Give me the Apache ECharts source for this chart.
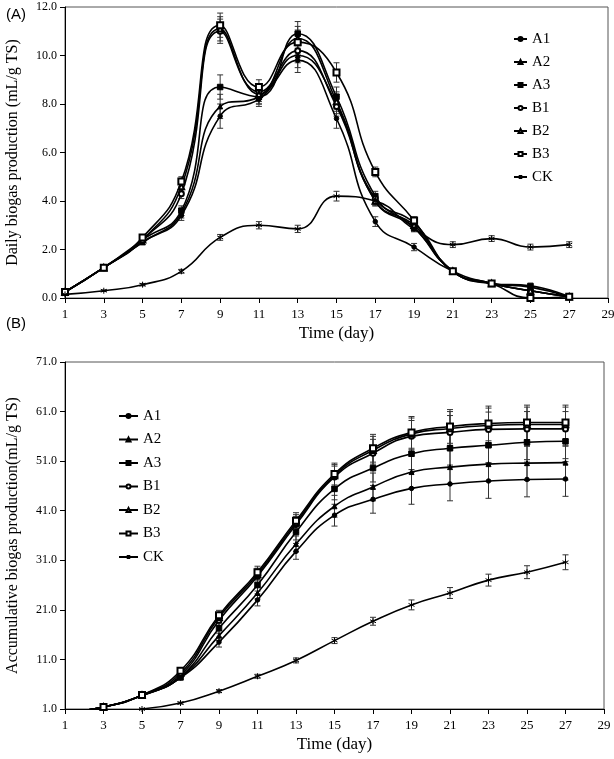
<!DOCTYPE html>
<html><head><meta charset="utf-8">
<script src="https://cdn.jsdelivr.net/npm/echarts@6/dist/echarts.min.js"></script>
<style>html,body{margin:0;padding:0;background:#fff}#c{width:614px;height:759px}</style>
</head><body><div id="c"></div>
<script>
const days = [1,3,5,7,9,11,13,15,17,19,21,23,25,27];
const xTicks = [1,3,5,7,9,11,13,15,17,19,21,23,25,27,29];
const yTicksA = [0,2,4,6,8,10,12];
const yTicksB = [1,11,21,31,41,51,61,71];
const names = ['A1','A2','A3','B1','B2','B3','CK'];

// (A) Daily biogas production
const dailyA1 = [0.25,1.25,2.3,3.4,7.5,8.2,9.8,7.4,3.15,2.1,1.1,0.6,0.3,0.05];
const dailyA2 = [0.25,1.25,2.3,3.5,7.9,8.3,10.0,8.0,4.0,2.9,1.1,0.6,0.45,0.05];
const dailyA3 = [0.25,1.25,2.4,3.6,8.7,8.3,10.9,8.3,4.2,2.9,1.1,0.6,0.5,0.05];
const dailyB1 = [0.25,1.25,2.4,4.3,11.0,8.5,10.2,7.9,4.1,3.1,1.1,0.6,0.3,0.05];
const dailyB2 = [0.25,1.25,2.4,4.6,11.1,8.4,10.7,8.1,4.0,3.0,1.1,0.6,0.3,0.05];
const dailyB3 = [0.25,1.25,2.5,4.8,11.25,8.7,10.55,9.3,5.2,3.2,1.1,0.6,0.0,0.05];
const dailyCK = [0.15,0.3,0.55,1.1,2.5,3.0,2.85,4.2,4.0,2.85,2.2,2.45,2.1,2.2];
const dailyErr = [0.05,0.05,0.1,0.2,0.5,0.3,0.5,0.4,0.2,0.15,0.05,0.05,0.05,0.05];
const dailyErrCK = [0.03,0.03,0.05,0.08,0.12,0.15,0.15,0.2,0.15,0.12,0.12,0.12,0.12,0.12];

// (B) Accumulative biogas production
const accA1 = [0.26,1.4,3.7,7.3,14.5,23.0,32.8,40.1,43.3,45.5,46.4,47.0,47.3,47.4];
const accA2 = [0.26,1.4,3.7,7.4,15.8,24.4,34.3,41.9,45.8,48.8,49.8,50.4,50.6,50.7];
const accA3 = [0.26,1.4,3.7,7.5,17.3,26.0,36.7,45.4,49.6,52.5,53.6,54.2,54.8,55.0];
const accB1 = [0.26,1.4,3.8,7.8,18.9,27.8,38.2,47.8,52.6,56.0,56.8,57.4,57.5,57.5];
const accB2 = [0.26,1.4,3.8,8.2,19.5,28.2,38.6,48.1,53.2,56.5,57.6,58.2,58.4,58.4];
const accB3 = [0.26,1.4,3.8,8.7,19.9,28.6,39.0,48.4,53.6,56.8,58.0,58.6,58.8,58.8];
const accCK = [null,null,1.0,2.2,4.6,7.6,10.8,14.8,18.7,22.0,24.4,27.0,28.6,30.6];
const accErr = [0.1,0.2,0.3,0.5,1.0,1.2,1.6,2.2,2.8,3.2,3.4,3.5,3.5,3.5];
const accErrCK = [0,0,0.1,0.2,0.3,0.4,0.5,0.6,0.8,1.0,1.1,1.2,1.3,1.5];

const dailySets = [dailyA1,dailyA2,dailyA3,dailyB1,dailyB2,dailyB3,dailyCK];
const accSets = [accA1,accA2,accA3,accB1,accB2,accB3,accCK];

const serif = 'Liberation Serif';
const asterisk = 'path://M5,0L5,10M0.7,2.5L9.3,7.5M9.3,2.5L0.7,7.5';
const symbols = [
  {symbol:'circle', symbolSize:4.5},
  {symbol:'triangle', symbolSize:5},
  {symbol:'rect', symbolSize:5.5},
  {symbol:'emptyCircle', symbolSize:5},
  {symbol:'emptyTriangle', symbolSize:5.5},
  {symbol:'emptyRect', symbolSize:6},
  {symbol:asterisk, symbolSize:6}
];

function pairs(vals){ return days.map((d,i)=>[d, vals[i]]); }

function errSeries(vals, errs, gi, name){
  return {
    type:'custom', name:name, xAxisIndex:gi, yAxisIndex:gi, z:1, clip:true,
    data: days.map((d,i)=> vals[i]==null ? null : [d, vals[i], errs[i]]).filter(v=>v),
    encode:{x:0,y:1},
    renderItem:function(params, api){
      const x = api.value(0), y = api.value(1), e = api.value(2);
      if(!(e>0)) return null;
      const t = api.coord([x, y+e]), b = api.coord([x, y-e]);
      const w = 3;
      const st = {stroke:'#333', lineWidth:1};
      return {type:'group', children:[
        {type:'line', shape:{x1:t[0],y1:t[1],x2:b[0],y2:b[1]}, style:st},
        {type:'line', shape:{x1:t[0]-w,y1:t[1],x2:t[0]+w,y2:t[1]}, style:st},
        {type:'line', shape:{x1:b[0]-w,y1:b[1],x2:b[0]+w,y2:b[1]}, style:st}
      ]};
    },
    silent:true, tooltip:{show:false}
  };
}

const series = [];
[dailySets, accSets].forEach((sets, gi)=>{
  sets.forEach((vals, k)=>{
    const isCK = k===6;
    const errs = gi===0 ? (isCK?dailyErrCK:dailyErr) : (isCK?accErrCK:accErr);
    series.push(errSeries(vals, errs, gi, names[k]+'_err'+gi));
    series.push({
      type:'line', name:names[k], xAxisIndex:gi, yAxisIndex:gi, z:3,
      data:pairs(vals), smooth:0.5, connectNulls:false, clip:true,
      symbol:symbols[k].symbol, symbolSize:symbols[k].symbolSize,
      showAllSymbol:true,
      lineStyle:{color:'#000', width:1.6},
      itemStyle:{color:'#000', borderColor:'#000', borderWidth:1},
      animation:false
    });
  });
});

function xAxis(gi){
  return {
    type:'value', gridIndex:gi, min:1, max:29,
    name:'Time (day)', nameLocation:'middle', nameGap:27,
    nameTextStyle:{fontFamily:serif, fontSize:17, color:'#000'},
    axisLine:{lineStyle:{color:'#000', width:1}},
    axisTick:{show:true, customValues:xTicks, length:5, lineStyle:{color:'#000'}},
    axisLabel:{customValues:xTicks, fontFamily:serif, fontSize:13, color:'#000', margin:10},
    splitLine:{show:false}
  };
}

const legendText = {fontFamily:serif, fontSize:15, color:'#000', lineHeight:16};
const option = {
  animation:false,
  backgroundColor:'#fff',
  title:[
    {text:'(A)', left:1, top:2, textStyle:{fontFamily:'Liberation Sans', fontSize:15, fontWeight:'normal', color:'#000'}},
    {text:'(B)', left:1, top:311, textStyle:{fontFamily:'Liberation Sans', fontSize:15, fontWeight:'normal', color:'#000'}}
  ],
  grid:[
    {left:65, right:6, top:7, height:291, show:true, borderColor:'#555', borderWidth:1, outerBoundsMode:'none', containLabel:false},
    {left:65, right:10, top:362, height:347, show:true, borderColor:'#555', borderWidth:1, outerBoundsMode:'none', containLabel:false}
  ],
  legend:[
    {data:names, orient:'vertical', left:513, top:31, itemWidth:13, itemHeight:5, itemGap:7, padding:0,
     textStyle:legendText},
    {data:names, orient:'vertical', left:118, top:408, itemWidth:19, itemHeight:5, itemGap:7.5, padding:0,
     textStyle:legendText}
  ],
  xAxis:[xAxis(0), xAxis(1)],
  yAxis:[
    {type:'value', gridIndex:0, min:0, max:12, interval:2,
     name:'Daily biogas production (mL/g TS)', nameLocation:'middle', nameGap:44,
     nameTextStyle:{fontFamily:serif, fontSize:16, color:'#000'},
     axisLine:{show:true, lineStyle:{color:'#000'}},
     axisTick:{show:true, length:5, lineStyle:{color:'#000'}},
     axisLabel:{fontFamily:serif, fontSize:12, color:'#000', margin:8, formatter:v=>v.toFixed(1)},
     splitLine:{show:false}},
    {type:'value', gridIndex:1, min:1, max:71,
     name:'Accumulative biogas production(mL/g TS)', nameLocation:'middle', nameGap:44,
     nameTextStyle:{fontFamily:serif, fontSize:16, color:'#000'},
     axisLine:{show:true, lineStyle:{color:'#000'}},
     axisTick:{show:true, length:5, customValues:yTicksB, lineStyle:{color:'#000'}},
     axisLabel:{customValues:yTicksB, fontFamily:serif, fontSize:12, color:'#000', margin:8, formatter:v=>v.toFixed(1)},
     splitLine:{show:false}}
  ],
  series:series
};
const chart = echarts.init(document.getElementById('c'));
chart.setOption(option);
</script></body></html>
